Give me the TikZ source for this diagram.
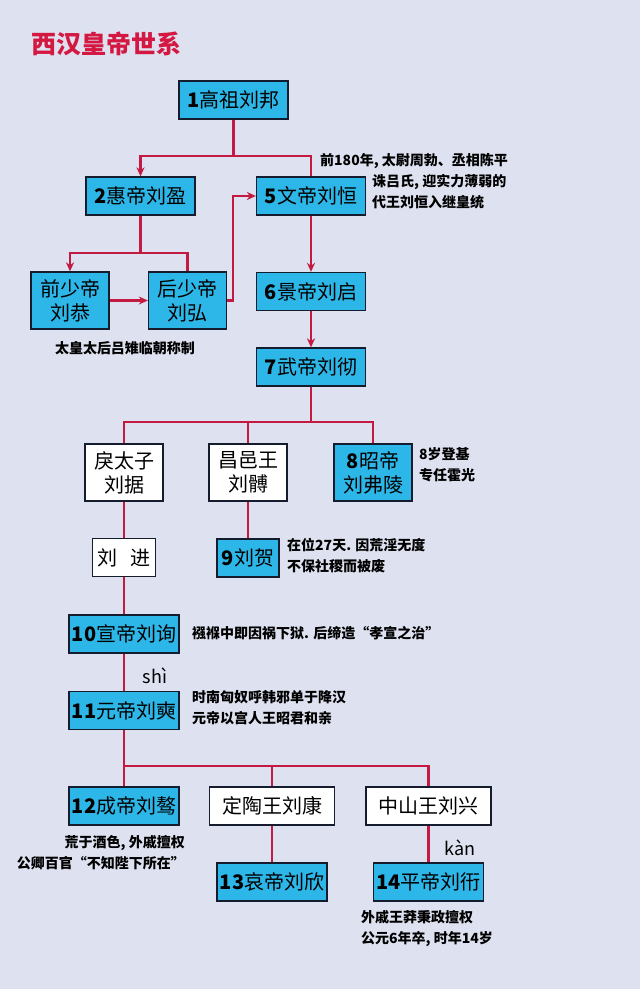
\documentclass[tikz,border=0pt]{standalone}
\usepackage{fontspec}
\setmainfont{Noto Sans CJK SC}
\usetikzlibrary{arrows.meta}
\definecolor{bg}{RGB}{222,225,240}
\definecolor{boxblue}{RGB}{45,183,232}
\definecolor{boxline}{RGB}{20,28,45}
\definecolor{linkred}{RGB}{196,26,66}
\definecolor{titlered}{RGB}{212,24,66}

\begin{document}
\begin{tikzpicture}[x=1pt,y=-1pt,
  emp/.style={draw=boxline, line width=1.3pt, fill=boxblue, font=\fontsize{20}{24}\selectfont, align=center, inner sep=0pt, minimum width=109pt, minimum height=38pt},
  prince/.style={emp, fill=white},
  twoline/.style={minimum width=78pt, minimum height=57pt},
  link/.style={draw=linkred, line width=2.2pt},
  arr/.style={link, -{Stealth[length=9pt,width=8pt]}},
  note/.style={font=\bfseries\fontsize{14}{21}\selectfont, align=left, inner sep=0pt},
  pinyin/.style={font=\fontsize{18}{18}\selectfont, inner sep=0pt}]
\fill[bg] (0,0) rectangle (640,989);
\useasboundingbox (0,0) rectangle (640,989);

\node[font=\bfseries\fontsize{25}{25}\selectfont, text=titlered, inner sep=0pt] (title) at (106,44) {西汉皇帝世系};

% emperors and princes
\node[emp] (k1) at (233.5,100) {\textbf{1}高祖刘邦};
\node[emp] (k2) at (140.5,196) {\textbf{2}惠帝刘盈};
\node[emp] (k5) at (311,196) {\textbf{5}文帝刘恒};
\node[emp, twoline] (shao1) at (70,300.5) {前少帝\\刘恭};
\node[emp, twoline] (shao2) at (187.5,300.5) {后少帝\\刘弘};
\node[emp] (k6) at (311,291.5) {\textbf{6}景帝刘启};
\node[emp] (k7) at (311,367) {\textbf{7}武帝刘彻};
\node[prince, twoline] (taizi) at (124,472.5) {戾太子\\刘据};
\node[prince, twoline] (changyi) at (248,472.5) {昌邑王\\刘髆};
\node[emp, twoline] (k8) at (373,472.5) {\textbf{8}昭帝\\刘弗陵};
\node[prince, minimum width=63pt] (jin) at (124,557.5) {刘\hspace{13pt}进};
\node[emp, minimum width=62pt] (k9) at (248,558) {\textbf{9}刘贺};
\node[emp, minimum width=110pt] (k10) at (124,634) {\textbf{10}宣帝刘询};
\node[emp, minimum width=110pt] (k11) at (124,710.5) {\textbf{11}元帝刘奭};
\node[emp, minimum width=110pt] (k12) at (124,806) {\textbf{12}成帝刘骜};
\node[prince, minimum width=125pt] (dingtao) at (272,806) {定陶王刘康};
\node[prince, minimum width=125pt] (zhongshan) at (428.5,806) {中山王刘兴};
\node[emp, minimum width=110pt] (k13) at (272,882) {\textbf{13}哀帝刘欣};
\node[emp, minimum width=110pt] (k14) at (428.5,882) {\textbf{14}平帝刘衎};

% notes
\node[note, anchor=north west] (n5) at (320,153) {前180年, 太尉周勃、丞相陈平\\\hspace*{52pt}诛吕氏, 迎实力薄弱的\\\hspace*{52pt}代王刘恒入继皇统};
\node[note] (nshao) at (125,348) {太皇太后吕雉临朝称制};
\node[note, anchor=north west] (n8) at (419,447) {8岁登基\\专任霍光};
\node[note, anchor=north west] (n9) at (287,538) {在位27天. 因荒淫无度\\不保社稷而被废};
\node[note, anchor=west] (n10) at (192,633) {襁褓中即因祸下狱. 后缔造“孝宣之治”};
\node[note, anchor=north west] (n11) at (192,690) {时南匈奴呼韩邪单于降汉\\元帝以宫人王昭君和亲};
\node[note, anchor=north east, align=right] (n12) at (185,835) {荒于酒色, 外戚擅权\\公卿百官“不知陛下所在”};
\node[note, anchor=north west] (n14) at (361,910) {外戚王莽秉政擅权\\公元6年卒, 时年14岁};
\node[pinyin] (py11) at (155,676) {shì};
\node[pinyin] (py14) at (460,848) {kàn};

% connectors
\draw[link] (k1.south) -- ++(0,36) coordinate (j1);
\draw[arr] (j1) -| (k2.north);
\draw[link] (j1) -| (k5.north);
\draw[link] (k2.south) -- ++(0,37) coordinate (j2);
\draw[arr] (j2) -| (shao1.north);
\draw[link] (j2) -| (shao2.north);
\draw[arr] (shao1.east) -- (shao2.west);
\draw[arr] (shao2.east) -- ++(6,0) |- (k5.west);
\draw[arr] (k5.south) -- (k6.north);
\draw[arr] (k6.south) -- (k7.north);
\draw[link] (k7.south) -- ++(0,36);
\draw[link] (taizi.north) -- ++(0,-21) -| (k8.north);
\draw[link] (changyi.north) -- ++(0,-21);
\draw[link] (taizi.south) -- (jin.north);
\draw[link] (changyi.south) -- (k9.north);
\draw[link] (jin.south) -- (k10.north);
\draw[link] (k10.south) -- (k11.north);
\draw[link] (k11.south) -- (k12.north);
\draw[link] (k12.north) -- ++(0,-20) -| (zhongshan.north);
\draw[link] (dingtao.north) -- ++(0,-20);
\draw[link] (dingtao.south) -- (k13.north);
\draw[link] (zhongshan.south) -- (k14.north);
\end{tikzpicture}
\end{document}
